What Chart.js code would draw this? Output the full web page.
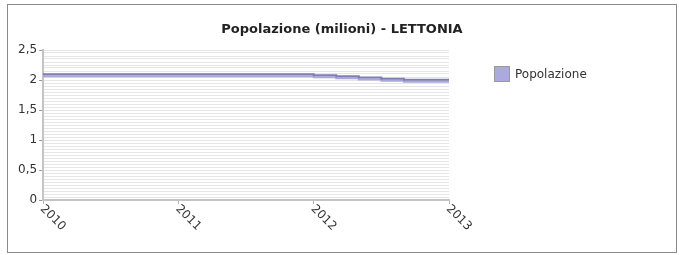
<!DOCTYPE html>
<html>
<head>
<meta charset="utf-8">
<script src="https://cdn.jsdelivr.net/npm/chart.js@4/dist/chart.umd.min.js"></script>
<style>
  body { margin: 0; background: #fff; font-family: "DejaVu Sans", sans-serif; }
  #wrap { position: absolute; left: 7px; top: 4px; width: 668px; height: 247px; border: 1px solid #8a8a8a; }
  #title { position: absolute; left: 0; top: 16px; width: 100%; text-align: center; font-size: 13px; line-height: 16px; font-weight: bold; color: #222; }
  #legend { position: absolute; left: 486px; top: 61px; font-size: 12px; color: #333; white-space: nowrap; }
  #legend span.box { display: inline-block; width: 14px; height: 14px; background: #aaaadd; border: 1px solid #9a9a9a; vertical-align: middle; margin-right: 5px; }
  #legend span.txt { vertical-align: middle; }
</style>
</head>
<body>
<div id="wrap">
  <canvas id="chart" width="668" height="247"></canvas>
  <div id="title">Popolazione (milioni) - LETTONIA</div>
  <div id="legend"><span class="box"></span><span class="txt">Popolazione</span></div>
</div>
<script>
// population of Latvia, millions (step series)
const periods = [2010, 2012, 2012.1667, 2012.3333, 2012.5, 2012.6667, 2012.8333, 2013];
const population = [2.115, 2.095, 2.078, 2.062, 2.04, 2.02, 2.005, 2.005];
const yearTicks = [2010, 2011, 2012, 2013];
const seriesName = 'Popolazione';

const points = periods.map((p, i) => ({ x: p, y: population[i] }));

// light shadow under the line, like the original renderer
const lineShadow = {
  id: 'lineShadow',
  beforeDatasetDraw(chart) {
    const ctx = chart.ctx;
    ctx.save();
    ctx.shadowColor = '#a9a9d9';
    ctx.shadowOffsetY = 2;
    ctx.shadowBlur = 0;
  },
  afterDatasetDraw(chart) {
    chart.ctx.restore();
  }
};

// x labels turned 45 degrees clockwise, reading downward
const slantedLabels = {
  id: 'slantedLabels',
  afterDraw(chart) {
    const ctx = chart.ctx;
    const sx = chart.scales.x;
    ctx.save();
    ctx.font = '12px "DejaVu Sans"';
    ctx.fillStyle = '#333';
    ctx.textAlign = 'left';
    ctx.textBaseline = 'middle';
    yearTicks.forEach(y => {
      const px = sx.getPixelForValue(y);
      ctx.save();
      ctx.translate(px - 1, sx.top + 7);
      ctx.rotate(Math.PI / 4);
      ctx.fillText(String(y), 0, 0);
      ctx.restore();
    });
    ctx.restore();
  }
};

new Chart(document.getElementById('chart'), {
  type: 'line',
  data: {
    datasets: [{
      label: seriesName,
      data: points,
      stepped: 'after',
      borderColor: '#7f7fb3',
      backgroundColor: '#aaaadd',
      borderWidth: 2,
      pointRadius: 0,
      fill: false
    }]
  },
  options: {
    responsive: false,
    animation: false,
    layout: { padding: { left: 8, right: 227, top: 45, bottom: 48 } },
    plugins: {
      legend: { display: false },
      tooltip: { enabled: false }
    },
    scales: {
      x: {
        type: 'linear',
        min: 2010,
        max: 2013,
        ticks: { display: false, stepSize: 1 },
        grid: { drawOnChartArea: false, tickLength: 4, color: '#b5b5b5' },
        border: { color: '#c4c4c4', width: 2 }
      },
      y: {
        min: 0,
        max: 2.5,
        ticks: {
          stepSize: 0.05,
          maxTicksLimit: 60,
          autoSkip: false,
          padding: 2,
          color: '#333',
          font: { family: 'DejaVu Sans', size: 12 },
          callback: v => {
            const r = Math.round(v * 100);
            if (r % 50 !== 0) return '';
            return String(r / 100).replace('.', ',');
          }
        },
        grid: {
          color: '#e6e6e6',
          tickLength: 4,
          tickColor: c => (Math.round(c.tick.value * 100) % 50 === 0 ? '#999' : 'rgba(0,0,0,0)')
        },
        border: { color: '#c4c4c4', width: 2 }
      }
    }
  },
  plugins: [lineShadow, slantedLabels]
});
</script>
</body>
</html>
